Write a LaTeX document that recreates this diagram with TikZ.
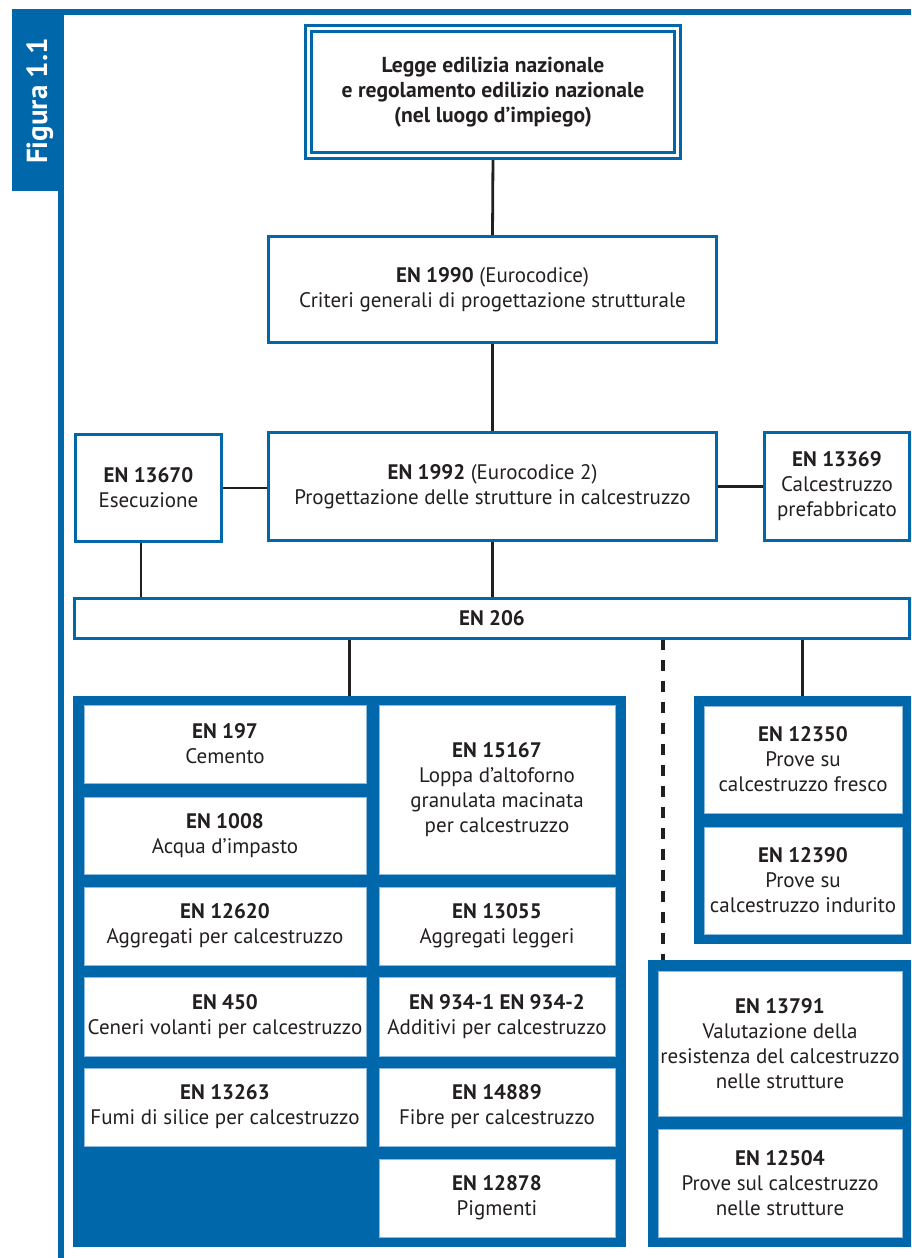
\documentclass[tikz,border=0pt]{standalone}
\usepackage{fontspec}
\setmainfont{PT Sans}
\usetikzlibrary{calc}
\definecolor{fblue}{RGB}{0,104,170}
\definecolor{ftext}{RGB}{35,31,32}
\definecolor{fedge}{RGB}{140,185,220}
\pgfdeclarelayer{background}
\pgfsetlayers{background,main}
\begin{document}
\begin{tikzpicture}[x=0.5pt,y=-0.5pt,
  every node/.style={inner sep=0pt, outer sep=0pt},
  txt/.style={align=center, text=ftext, font=\fontsize{10.5}{12.5}\selectfont},
  thinbox/.style={txt, draw=fblue, line width=1.4pt, fill=white},
  blockbg/.style={fill=fblue, draw=none},
  cell/.style={txt, fill=white, draw=fedge, line width=0.3pt},
  lcell/.style={cell, minimum width=141pt},
  rcell/.style={cell, minimum width=118pt},
  conn/.style={draw=ftext, line width=1.4pt},
  dconn/.style={draw=ftext, line width=1.6pt, dash pattern=on 5.5pt off 5pt},
]
\useasboundingbox (0,0) rectangle (911,1258);
% frame
\fill[fblue] (58,9) rectangle (911,14.5);
\fill[fblue] (58,9) rectangle (63.5,1258);
\node[fill=fblue, minimum width=23pt, minimum height=91pt, anchor=north west] (tab) at (12,9) {};
\node[rotate=90, anchor=base, text=white, font=\bfseries\fontsize{14.5}{16}\selectfont] (tablabel) at (47,101) {Figura 1.1};

% upper boxes
\node[txt, draw=fblue, fill=white, line width=1.5pt, double=white, double distance=1.5pt,
      minimum width=184.5pt, minimum height=63.5pt, font=\bfseries\fontsize{10.8}{12.5}\selectfont]
      (law) at (493,92) {Legge edilizia nazionale\\e regolamento edilizio nazionale\\(nel luogo d’impiego)};
\node[thinbox, minimum width=224.1pt, minimum height=53.1pt] (en1990) at (492.5,289.5)
      {\textbf{EN 1990} (Eurocodice)\\Criteri generali di progettazione strutturale};
\node[thinbox, minimum width=224.1pt, minimum height=54.1pt] (en1992) at (492.5,486.5)
      {\textbf{EN 1992} (Eurocodice 2)\\Progettazione delle strutture in calcestruzzo};
\node[thinbox, minimum width=73.1pt, minimum height=53.6pt] (en13670) at (148.5,488)
      {\textbf{EN 13670}\\Esecuzione};
\node[thinbox, minimum width=72.6pt, minimum height=54.1pt] (en13369) at (837,486.5)
      {\textbf{EN 13369}\\Calcestruzzo\\prefabbricato};
\node[thinbox, minimum width=417.6pt, minimum height=20.1pt] (en206) at (492,618.5)
      {\textbf{EN 206}};

% blocks
\node[blockbg, minimum width=276.5pt, minimum height=275.5pt] (left) at (349.5,971.5) {};
\node[blockbg, minimum width=108.5pt, minimum height=124pt] (upright) at (802.5,820) {};
\node[blockbg, minimum width=131.5pt, minimum height=143.5pt] (lowright) at (779.5,1103.5) {};

% left block cells
\node[lcell, minimum height=39pt] (en197) at (225,744) {\textbf{EN 197}\\Cemento};
\node[lcell, minimum height=38.5pt] (en1008) at (225,835.5) {\textbf{EN 1008}\\Acqua d’impasto};
\node[lcell, minimum height=39pt] (en12620) at (225,926) {\textbf{EN 12620}\\Aggregati per calcestruzzo};
\node[lcell, minimum height=39.5pt] (en450) at (225,1016.5) {\textbf{EN 450}\\Ceneri volanti per calcestruzzo};
\node[lcell, minimum height=39pt] (en13263) at (225,1107) {\textbf{EN 13263}\\Fumi di silice per calcestruzzo};
\node[rcell, minimum height=84.5pt] (en15167) at (497,789.5) {\textbf{EN 15167}\\Loppa d’altoforno\\granulata macinata\\per calcestruzzo};
\node[rcell, minimum height=39pt] (en13055) at (497,926) {\textbf{EN 13055}\\Aggregati leggeri};
\node[rcell, minimum height=39.5pt] (en934) at (497,1016.5) {\textbf{EN 934-1 EN 934-2}\\Additivi per calcestruzzo};
\node[rcell, minimum height=39pt] (en14889) at (497,1107) {\textbf{EN 14889}\\Fibre per calcestruzzo};
\node[rcell, minimum height=39pt] (en12878) at (497,1198) {\textbf{EN 12878}\\Pigmenti};

% right block cells
\node[cell, minimum width=99pt, minimum height=53.5pt] (en12350) at (803,759.5) {\textbf{EN 12350}\\Prove su\\calcestruzzo fresco};
\node[cell, minimum width=99pt, minimum height=53.5pt] (en12390) at (803,880.5) {\textbf{EN 12390}\\Prove su\\calcestruzzo indurito};
\node[cell, minimum width=122pt, minimum height=72.5pt] (en13791) at (780,1043.5) {\textbf{EN 13791}\\Valutazione della\\resistenza del calcestruzzo\\nelle strutture};
\node[cell, minimum width=122pt, minimum height=54pt] (en12504) at (780,1183) {\textbf{EN 12504}\\Prove sul calcestruzzo\\nelle strutture};

% connectors
\coordinate (c1) at (141,540);
\coordinate (c4) at (663,700);
\begin{pgfonlayer}{background}
\draw[conn] (law.south) -- (en1990.north);
\draw[conn] (en1990.south) -- (en1992.north);
\draw[conn] (en13670.east) -- (en13670.east -| en1992.west);
\draw[conn] (en1992.east) -- (en1992.east -| en13369.west);
\draw[conn] (en13670.south -| c1) -- (en206.north -| c1);
\draw[conn] (en1992.south) -- (en1992.south |- en206.north);
\draw[conn] (en206.south -| left.north) -- (left.north);
\draw[conn] (en206.south -| upright.north) -- (upright.north);
\draw[dconn] (en206.south -| c4) -- (lowright.north -| c4);
\end{pgfonlayer}
\end{tikzpicture}
\end{document}
